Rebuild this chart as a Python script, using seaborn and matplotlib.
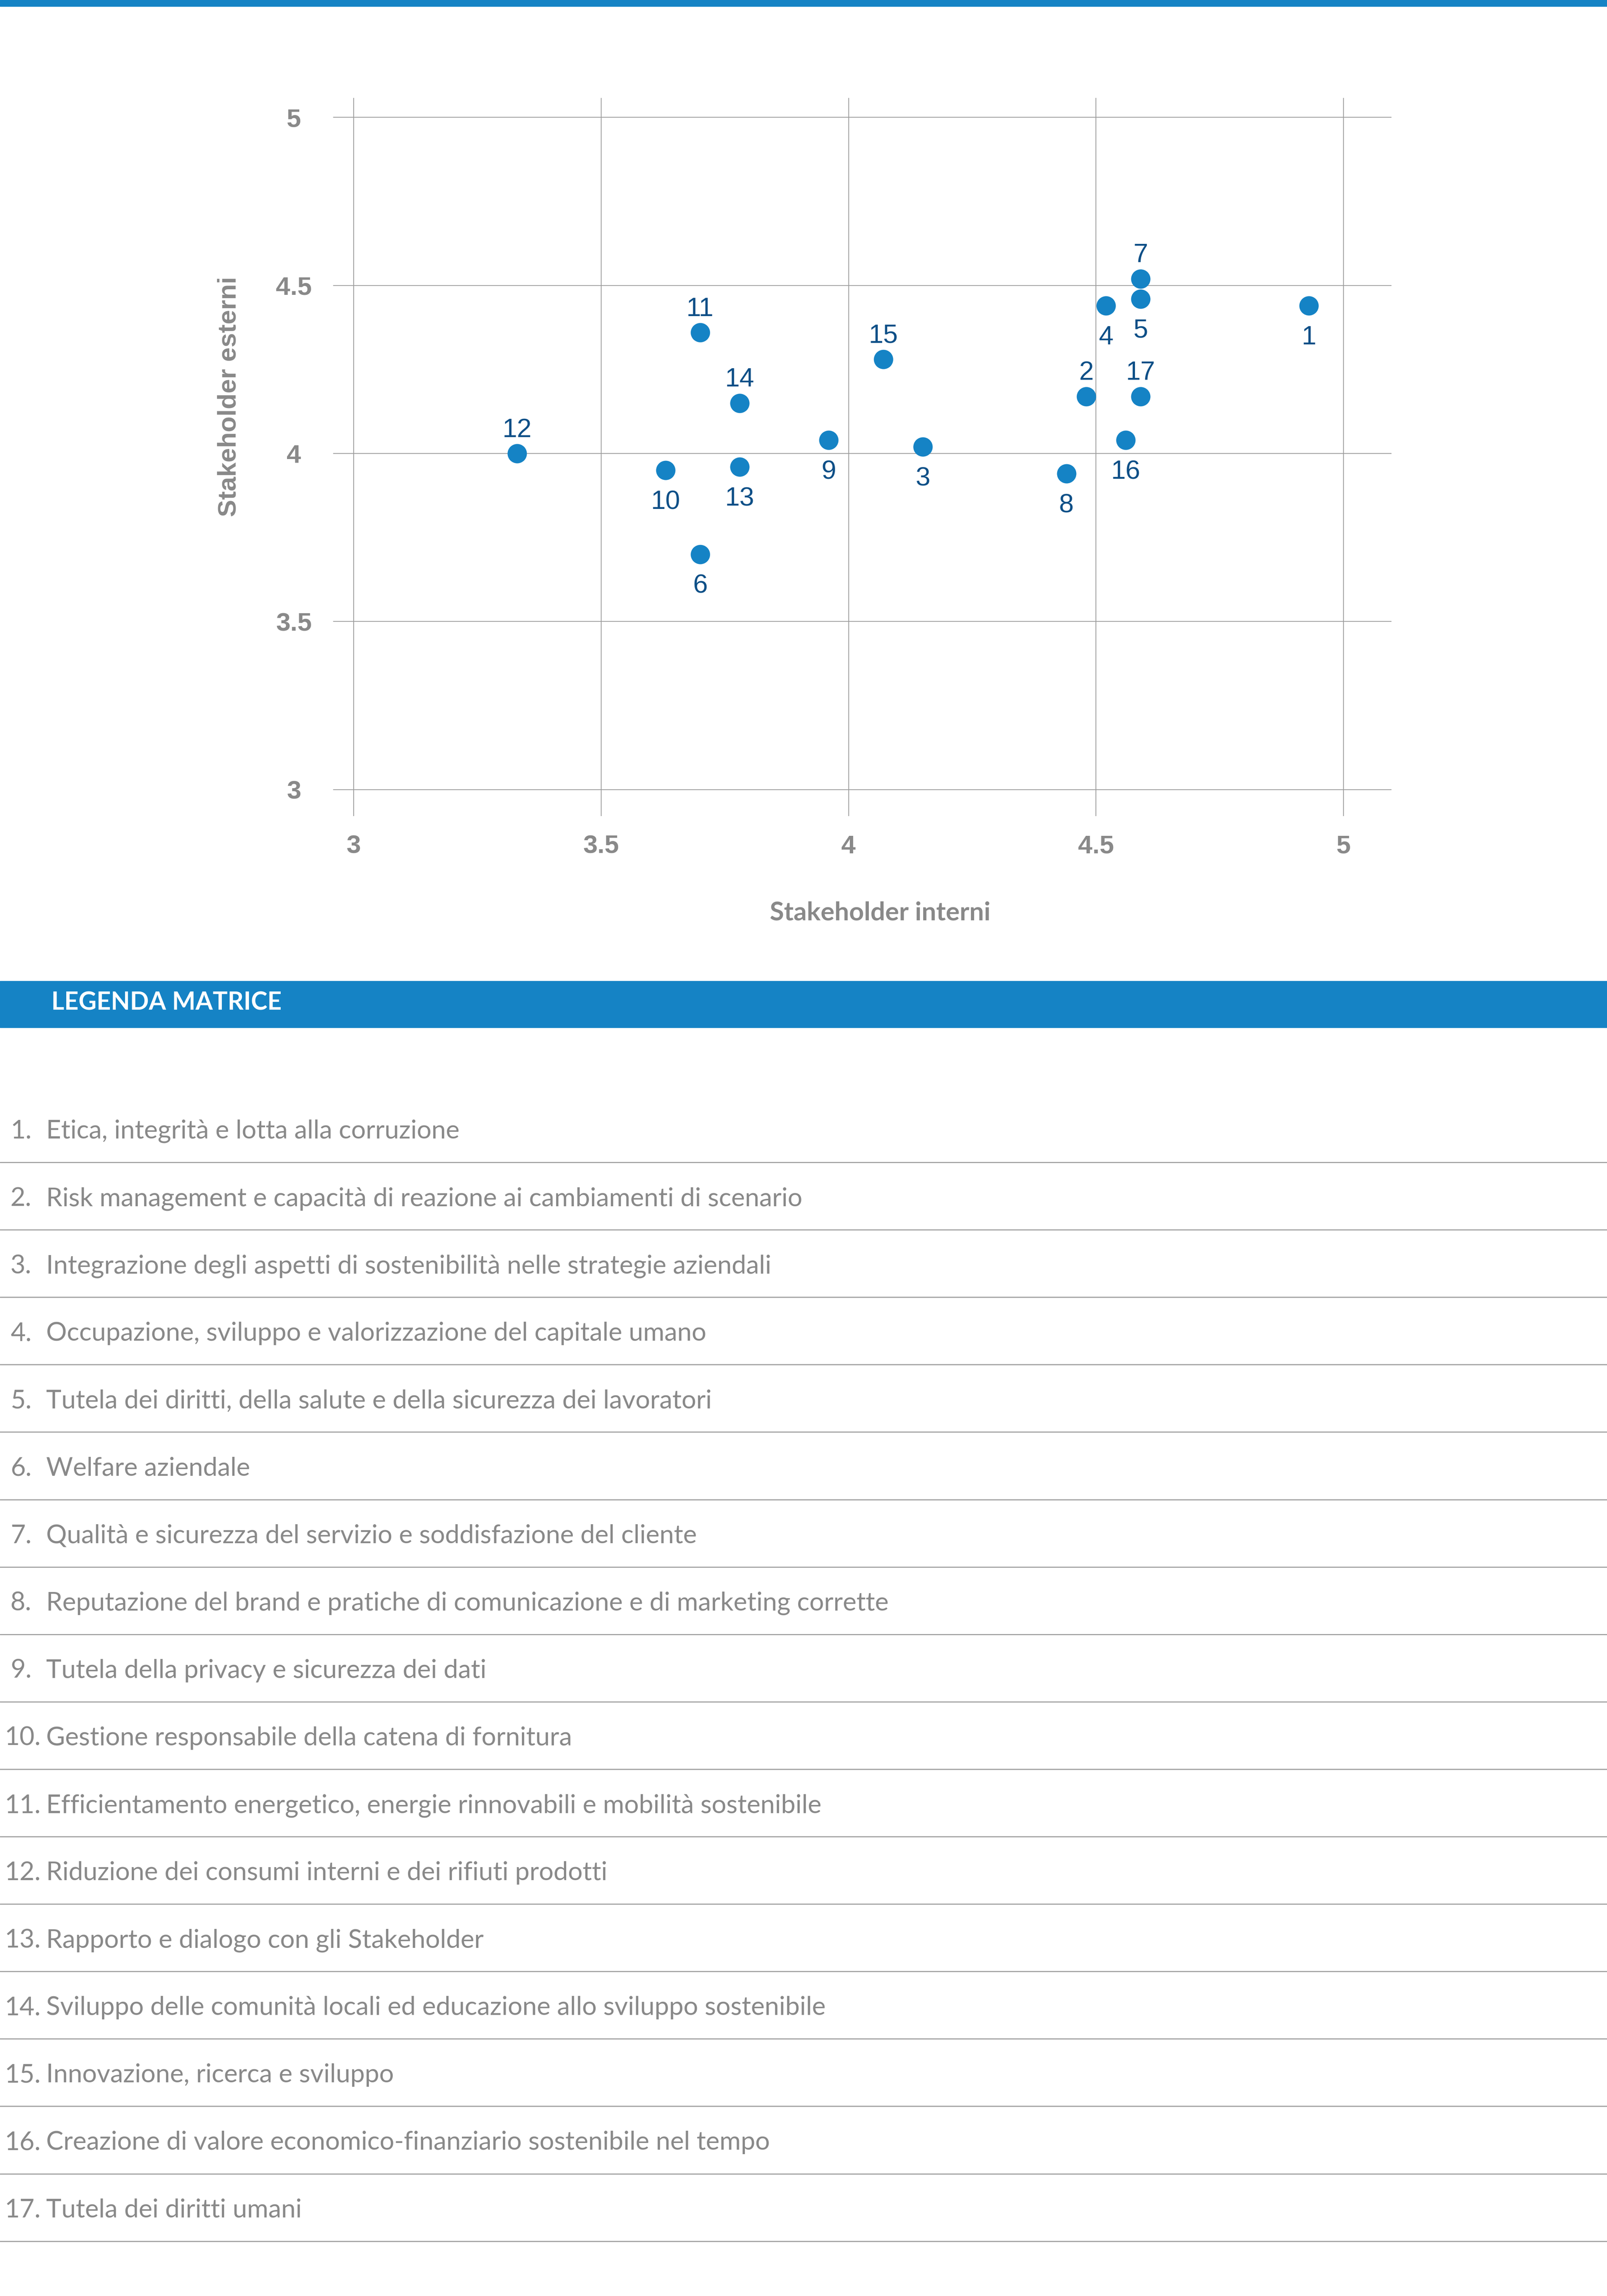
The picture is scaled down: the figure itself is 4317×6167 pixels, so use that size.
import matplotlib
matplotlib.use("Agg")
import matplotlib.pyplot as plt
import seaborn as sns
import pandas as pd
from matplotlib.patches import Rectangle
from matplotlib.lines import Line2D

# ---------------- data ----------------
topic_ids = list(range(1, 18))
interni = [4.93, 4.48, 4.15, 4.52, 4.59, 3.70, 4.59, 4.44, 3.96, 3.63,
           3.70, 3.33, 3.78, 3.78, 4.07, 4.56, 4.59]
esterni = [4.44, 4.17, 4.02, 4.44, 4.46, 3.70, 4.52, 3.94, 4.04, 3.95,
           4.36, 4.00, 3.96, 4.15, 4.28, 4.04, 4.17]
label_above = [2, 7, 11, 12, 14, 15, 17]
tick_values = [3, 3.5, 4, 4.5, 5]
tick_labels = ["3", "3.5", "4", "4.5", "5"]
legend_items = [
    "Etica, integrità e lotta alla corruzione",
    "Risk management e capacità di reazione ai cambiamenti di scenario",
    "Integrazione degli aspetti di sostenibilità nelle strategie aziendali",
    "Occupazione, sviluppo e valorizzazione del capitale umano",
    "Tutela dei diritti, della salute e della sicurezza dei lavoratori",
    "Welfare aziendale",
    "Qualità e sicurezza del servizio e soddisfazione del cliente",
    "Reputazione del brand e pratiche di comunicazione e di marketing corrette",
    "Tutela della privacy e sicurezza dei dati",
    "Gestione responsabile della catena di fornitura",
    "Efficientamento energetico, energie rinnovabili e mobilità sostenibile",
    "Riduzione dei consumi interni e dei rifiuti prodotti",
    "Rapporto e dialogo con gli Stakeholder",
    "Sviluppo delle comunità locali ed educazione allo sviluppo sostenibile",
    "Innovazione, ricerca e sviluppo",
    "Creazione di valore economico-finanziario sostenibile nel tempo",
    "Tutela dei diritti umani",
]
x_label = "Stakeholder interni"
y_label = "Stakeholder esterni"
legend_title = "LEGENDA MATRICE"

df = pd.DataFrame({"id": topic_ids, "interni": interni, "esterni": esterni})

# ---------------- style ----------------
sns.set_theme(style="white")
plt.rcParams["font.family"] = ["Liberation Sans", "DejaVu Sans"]

BLUE = "#1583c5"
LABEL_BLUE = "#0d4f87"
GRAY_TXT = "#898989"
GRID = "#9c9c9c"

W, H = 4317, 6167
fig = plt.figure(figsize=(W / 100, H / 100), dpi=100)

def fx(px):
    return px / W

def fy(py):
    return 1 - py / H

# top blue bar
fig.patches.append(Rectangle((0, fy(17)), 1, 17 / H, transform=fig.transFigure,
                             color=BLUE, zorder=0))

# ---------------- scatter ----------------
ax_l, ax_r, ax_t, ax_b = 895, 3738, 263, 2192
ax = fig.add_axes([fx(ax_l), fy(ax_b), (ax_r - ax_l) / W, (ax_b - ax_t) / H])
sns.scatterplot(data=df, x="interni", y="esterni", ax=ax, s=1400, color=BLUE,
                linewidth=0, zorder=3, legend=False)
ax.set_xlim(2.9586, 5.097)
ax.set_ylim(2.921, 5.058)
ax.set_xticks(tick_values)
ax.set_xticklabels(tick_labels)
ax.set_yticks(tick_values)
ax.set_yticklabels(tick_labels)
ax.grid(True, color=GRID, linewidth=1.5)
ax.set_axisbelow(True)
for s in ax.spines.values():
    s.set_visible(False)
ax.tick_params(axis="both", length=0)
ax.tick_params(axis="y", pad=76)
ax.tick_params(axis="x", pad=36)
for lab in ax.get_yticklabels():
    lab.set_horizontalalignment("center")
for lab in ax.get_xticklabels() + ax.get_yticklabels():
    lab.set_fontfamily("Liberation Sans")
    lab.set_fontweight("bold")
    lab.set_fontsize(50)
    lab.set_color(GRAY_TXT)
ax.set_xlabel("")
ax.set_ylabel("")

for i, xv, yv in zip(topic_ids, interni, esterni):
    off = 32 if i in label_above else -75
    ax.annotate(str(i), (xv, yv), xytext=(0, off), textcoords="offset points",
                ha="center", va="baseline", fontsize=51, color=LABEL_BLUE,
                fontfamily="Liberation Sans", zorder=4)

fig.text(fx(2364), fy(2472), x_label, ha="center", va="baseline",
         fontsize=50, fontweight="bold", color=GRAY_TXT, fontfamily="Lato")
fig.text(fx(615), fy(1066), y_label, ha="center", va="center", rotation=90,
         fontsize=50, fontweight="bold", color=GRAY_TXT,
         fontfamily="Liberation Sans")

# ---------------- legend ----------------
fig.patches.append(Rectangle((0, fy(2760)), 1, 125 / H, transform=fig.transFigure,
                             color=BLUE, zorder=0))
fig.text(fx(138), fy(2712), legend_title, ha="left", va="baseline",
         fontsize=48, fontweight="bold", color="white", fontfamily="Lato")

pitch = 181.1
for k, item in enumerate(legend_items):
    base = 3058 + pitch * k
    num = k + 1
    num_x = 28 if num < 10 else 12
    fig.text(fx(num_x), fy(base), f"{num}.", ha="left", va="baseline",
             fontsize=50, color=GRAY_TXT, fontfamily="Lato")
    fig.text(fx(124), fy(base), item, ha="left", va="baseline",
             fontsize=50, color=GRAY_TXT, fontfamily="Lato")
    sep = 3122 + pitch * k
    fig.lines.append(Line2D([0, 1], [fy(sep), fy(sep)], transform=fig.transFigure,
                            color="#a3a3a3", linewidth=2.2))

fig.savefig("out.png", dpi=100, facecolor="white")
